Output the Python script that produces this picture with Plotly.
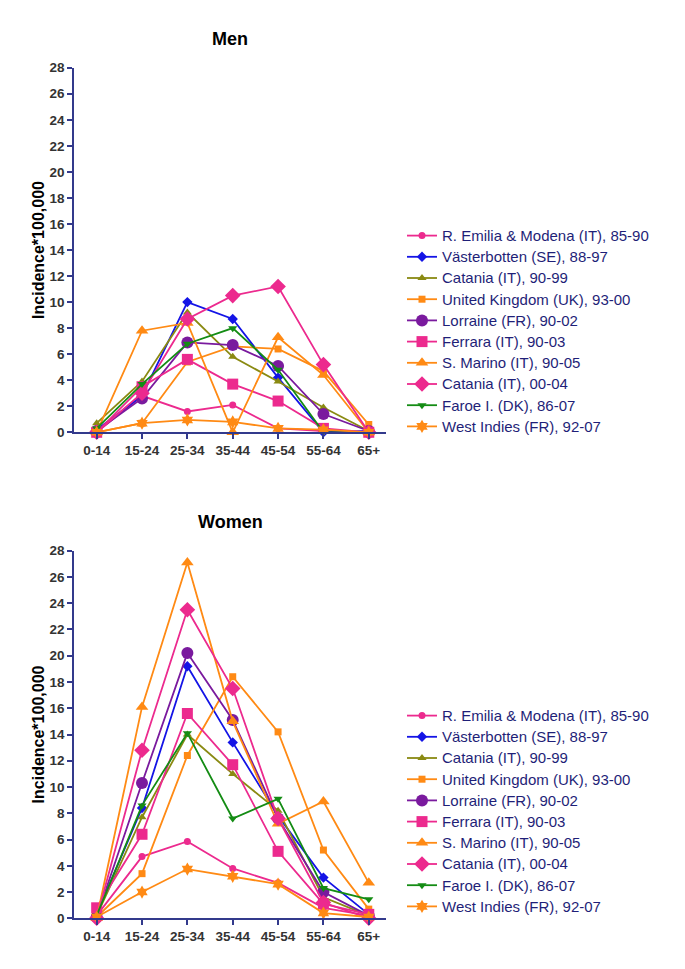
import plotly.graph_objects as go

age_groups = ["0-14", "15-24", "25-34", "35-44", "45-54", "55-64", "65+"]

series_names = [
    "R. Emilia & Modena (IT), 85-90",
    "Västerbotten (SE), 88-97",
    "Catania (IT), 90-99",
    "United Kingdom (UK), 93-00",
    "Lorraine (FR), 90-02",
    "Ferrara (IT), 90-03",
    "S. Marino (IT), 90-05",
    "Catania (IT), 00-04",
    "Faroe I. (DK), 86-07",
    "West Indies (FR), 92-07",
]

# Men incidence per 100,000
men_remilia = [0.0, 2.8, 1.6, 2.1, 0.3, 0.1, 0.0]
men_vasterbotten = [0.2, 2.8, 10.0, 8.7, 4.2, 0.0, 0.1]
men_catania_90 = [0.7, 3.9, 9.2, 5.8, 3.9, 1.9, 0.1]
men_uk = [0.0, 0.7, 5.4, 6.6, 6.4, 4.7, 0.6]
men_lorraine = [0.1, 2.6, 6.9, 6.7, 5.1, 1.4, 0.1]
men_ferrara = [0.0, 3.5, 5.6, 3.7, 2.4, 0.3, 0.0]
men_smarino = [0.0, 7.8, 8.4, 0.0, 7.3, 4.4, 0.0]
men_catania_00 = [0.0, 3.0, 8.7, 10.5, 11.2, 5.2, 0.0]
men_faroe = [0.3, 3.7, 6.8, 8.0, 4.8, 0.0, 0.0]
men_westindies = [0.0, 0.7, 0.95, 0.8, 0.3, 0.2, 0.0]

# Women incidence per 100,000
women_remilia = [0.2, 4.7, 5.85, 3.8, 2.7, 0.8, 0.2]
women_vasterbotten = [0.3, 8.4, 19.2, 13.4, 7.8, 3.1, 0.3]
women_catania_90 = [0.2, 7.7, 14.0, 11.0, 8.2, 1.6, 0.2]
women_uk = [0.1, 3.4, 12.4, 18.4, 14.2, 5.2, 0.7]
women_lorraine = [0.1, 10.3, 20.2, 15.1, 7.6, 2.0, 0.2]
women_ferrara = [0.8, 6.4, 15.6, 11.7, 5.1, 1.1, 0.3]
women_smarino = [0.0, 16.1, 27.1, 15.0, 7.2, 8.9, 2.7]
women_catania_00 = [0.0, 12.8, 23.5, 17.5, 7.6, 1.2, 0.0]
women_faroe = [0.2, 8.6, 14.1, 7.6, 9.1, 2.3, 1.45]
women_westindies = [0.1, 2.0, 3.75, 3.2, 2.6, 0.4, 0.1]

men_values = [men_remilia, men_vasterbotten, men_catania_90, men_uk, men_lorraine,
              men_ferrara, men_smarino, men_catania_00, men_faroe, men_westindies]
women_values = [women_remilia, women_vasterbotten, women_catania_90, women_uk, women_lorraine,
                women_ferrara, women_smarino, women_catania_00, women_faroe, women_westindies]

PINK = "#EC2A8E"
styles = [
    dict(color=PINK, symbol="circle", size=7),
    dict(color="#1414E6", symbol="diamond", size=8),
    dict(color="#8A8A12", symbol="triangle-up", size=8),
    dict(color="#FF8A14", symbol="square", size=7),
    dict(color="#7A1A9E", symbol="circle", size=12),
    dict(color=PINK, symbol="square", size=11),
    dict(color="#FF8A14", symbol="triangle-up", size=11),
    dict(color=PINK, symbol="diamond", size=12),
    dict(color="#148C14", symbol="triangle-down", size=8),
    dict(color="#FF8A14", symbol="hexagram", size=10),
]

# page has an 8px body margin: figure is 8px smaller, coordinates below are page px
OFF = 8
W, H = 685 - OFF, 969 - OFF
fig = go.Figure()


def legend_label(name):
    # slightly larger text while keeping the legend row spacing of a 14px font
    return '<span style="font-size:15px">' + name + "</span>"


for i, name in enumerate(series_names):
    st = styles[i]
    fig.add_trace(go.Scatter(
        x=age_groups, y=men_values[i], name=legend_label(name), mode="lines+markers",
        line=dict(color=st["color"], width=1.8),
        marker=dict(color=st["color"], symbol=st["symbol"], size=st["size"], line=dict(width=0)),
        cliponaxis=False, xaxis="x", yaxis="y", legend="legend",
    ))
for i, name in enumerate(series_names):
    st = styles[i]
    fig.add_trace(go.Scatter(
        x=age_groups, y=women_values[i], name=legend_label(name), mode="lines+markers",
        line=dict(color=st["color"], width=1.8),
        marker=dict(color=st["color"], symbol=st["symbol"], size=st["size"], line=dict(width=0)),
        cliponaxis=False, xaxis="x2", yaxis="y2", legend="legend2",
    ))

AX = "#333A8C"
FONT = "Arial, Liberation Sans"
tickfont = dict(family=FONT, size=13.5, color="#333333", weight="bold")
titlefont = dict(family=FONT, size=16, color="#000000", weight="bold")


def px_x(p):
    return (p - OFF) / W


def px_y(p):
    return 1 - (p - OFF) / H


xdom = [px_x(74), px_x(386)]
ydom_top = [px_y(432.3), px_y(67.7)]
ydom_bot = [px_y(918.3), px_y(550.7)]

xaxis_common = dict(
    domain=xdom, type="category", categoryorder="array", categoryarray=age_groups,
    range=[-0.5, 6.38], showline=True, linecolor=AX, linewidth=1.5,
    ticks="outside", ticklen=5, tickcolor=AX, tickwidth=1.5, tickfont=tickfont,
    showgrid=False, zeroline=False, fixedrange=True, automargin=False,
)
yaxis_common = dict(
    range=[0, 28], dtick=2, tick0=0, showline=True, linecolor=AX, linewidth=1.5,
    ticks="outside", ticklen=5, tickcolor=AX, tickwidth=1.5, tickfont=tickfont,
    showgrid=False, zeroline=False, automargin=False,
    title=dict(text="Incidence*100,000", font=titlefont, standoff=1),
)

legend_common = dict(
    font=dict(family=FONT, size=14, color="#1F1F78"),
    bgcolor="rgba(0,0,0,0)", borderwidth=0, xanchor="left", yanchor="top",
    itemclick=False, itemdoubleclick=False,
)

fig.update_layout(
    width=W, height=H,
    margin=dict(l=0, r=0, t=0, b=0, autoexpand=False),
    paper_bgcolor="white", plot_bgcolor="white",
    showlegend=True,
    xaxis=dict(xaxis_common, anchor="y"),
    yaxis=dict(yaxis_common, domain=ydom_top, anchor="x"),
    xaxis2=dict(xaxis_common, anchor="y2"),
    yaxis2=dict(yaxis_common, domain=ydom_bot, anchor="x2"),
    legend=dict(legend_common, x=px_x(402), y=px_y(220)),
    legend2=dict(legend_common, x=px_x(402), y=px_y(700)),
    annotations=[
        dict(text="Men", x=(xdom[0] + xdom[1]) / 2, y=px_y(39), xref="paper", yref="paper",
             showarrow=False, font=dict(family=FONT, size=18, color="#000", weight="bold"),
             xanchor="center", yanchor="middle"),
        dict(text="Women", x=(xdom[0] + xdom[1]) / 2, y=px_y(522), xref="paper", yref="paper",
             showarrow=False, font=dict(family=FONT, size=18, color="#000", weight="bold"),
             xanchor="center", yanchor="middle"),
    ],
)

fig.write_html("out.html")
